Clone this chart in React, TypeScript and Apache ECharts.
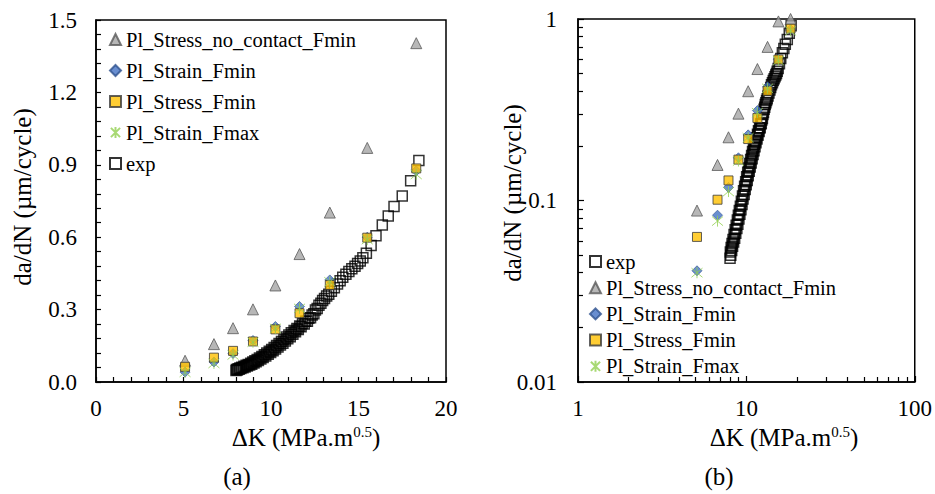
import React, { useEffect, useRef } from 'react';
import * as echarts from 'echarts';

// ---- data ----
const MODEL_DK = [5.09, 6.74, 7.83, 8.97, 10.25, 11.63, 13.36, 15.5, 18.3];
const NO_CONTACT_FMIN = [0.088, 0.157, 0.223, 0.301, 0.4, 0.53, 0.702, 0.97, 1.404];
const STRAIN_FMIN = [0.041, 0.083, 0.118, 0.172, 0.23, 0.313, 0.423, 0.6, 0.875];
const STRESS_FMIN = [0.063, 0.101, 0.129, 0.168, 0.218, 0.285, 0.402, 0.598, 0.885];
const STRAIN_FMAX = [0.04, 0.077, 0.112, 0.165, 0.222, 0.305, 0.415, 0.59, 0.86];

const EXP_DK = [
  8.0, 8.03, 8.08, 8.12, 8.18, 8.22, 8.28, 8.33, 8.4, 8.45, 8.52, 8.58, 8.65, 8.7, 8.78,
  8.84, 8.9, 8.96, 9.03, 9.08, 9.15, 9.21, 9.28, 9.34, 9.42, 9.48, 9.55, 9.62, 9.7, 9.76,
  9.84, 9.9, 9.98, 10.04, 10.12, 10.18, 10.26, 10.32, 10.4, 10.46, 10.54, 10.6, 10.68,
  10.74, 10.82, 10.88, 10.96, 11.02, 11.1, 11.16, 11.25, 11.32, 11.4, 11.48, 11.56, 11.64,
  11.72, 11.8, 11.9, 11.98, 12.08, 12.16, 12.26, 12.35, 12.45, 12.54, 12.64, 12.74, 12.85,
  12.95, 13.06, 13.18, 13.3, 13.45, 13.62, 13.8, 13.95, 14.1, 14.28, 14.45, 14.62, 14.8,
  14.95, 15.1, 15.25, 15.45, 15.72, 16.0, 16.36, 16.7, 17.03, 17.5, 17.98, 18.45,
];
const EXP_DADN = [
  0.048, 0.052, 0.05, 0.055, 0.053, 0.058, 0.056, 0.061, 0.059, 0.065, 0.062, 0.069, 0.066,
  0.073, 0.07, 0.078, 0.074, 0.083, 0.079, 0.088, 0.084, 0.093, 0.089, 0.099, 0.095, 0.106,
  0.102, 0.113, 0.108, 0.12, 0.115, 0.127, 0.122, 0.135, 0.129, 0.143, 0.137, 0.151, 0.145,
  0.16, 0.153, 0.168, 0.161, 0.177, 0.17, 0.186, 0.179, 0.195, 0.188, 0.204, 0.198, 0.213,
  0.208, 0.222, 0.218, 0.232, 0.229, 0.242, 0.24, 0.252, 0.252, 0.264, 0.266, 0.278, 0.283,
  0.298, 0.305, 0.318, 0.326, 0.338, 0.346, 0.356, 0.364, 0.376, 0.391, 0.406, 0.42, 0.434,
  0.446, 0.458, 0.469, 0.48, 0.491, 0.501, 0.515, 0.533, 0.566, 0.606, 0.651, 0.688, 0.727,
  0.771, 0.834, 0.918,
];

const LEFT_X_TICKS = [0, 20, 5];
const LEFT_Y_TICKS = [0, 1.5, 0.3];
const RIGHT_X_RANGE = [1, 100];
const RIGHT_Y_RANGE = [0.01, 1];

const N_NOCONTACT = 'Pl_Stress_no_contact_Fmin';
const N_STRAIN_FMIN = 'Pl_Strain_Fmin';
const N_STRESS_FMIN = 'Pl_Stress_Fmin';
const N_STRAIN_FMAX = 'Pl_Strain_Fmax';
const N_EXP = 'exp';

const LEFT_LEGEND = [N_NOCONTACT, N_STRAIN_FMIN, N_STRESS_FMIN, N_STRAIN_FMAX, N_EXP];
const RIGHT_LEGEND = [N_EXP, N_NOCONTACT, N_STRAIN_FMIN, N_STRESS_FMIN, N_STRAIN_FMAX];

const FONT = 'Liberation Serif, Times New Roman, serif';
const ASTERISK = 'path://M0,0L10,10M0,10L10,0M5,-1L5,11';

export default function App() {
  const ref = useRef<HTMLDivElement>(null);

  useEffect(() => {
    if (!ref.current) return;
    const chart = echarts.init(ref.current, undefined, { renderer: 'svg' });

    const pairs = (xs: number[], ys: number[], cap?: number) =>
      xs.map((x, i) => [x, cap !== undefined ? Math.min(ys[i], cap) : ys[i]]);

    const makeSeries = (gi: number) => {
      const cap = gi === 1 ? RIGHT_Y_RANGE[1] : undefined;
      const base = { type: 'scatter', xAxisIndex: gi, yAxisIndex: gi, silent: true };
      return [
        {
          ...base,
          name: N_EXP,
          symbol: 'rect',
          symbolSize: 10,
          itemStyle: { color: 'rgba(255,255,255,0)', borderColor: '#000', borderWidth: 1.5 },
          data: pairs(EXP_DK, EXP_DADN),
          z: 2,
        },
        {
          ...base,
          name: N_NOCONTACT,
          symbol: 'triangle',
          symbolSize: 11,
          itemStyle: { color: '#a5a5a5', borderColor: '#595959', borderWidth: 1 },
          data: pairs(MODEL_DK, NO_CONTACT_FMIN, cap),
          z: 3,
        },
        {
          ...base,
          name: N_STRAIN_FMIN,
          symbol: 'diamond',
          symbolSize: 10,
          itemStyle: { color: '#4472c4', borderColor: '#2f528f', borderWidth: 0.8 },
          data: pairs(MODEL_DK, STRAIN_FMIN, cap),
          z: 4,
        },
        {
          ...base,
          name: N_STRESS_FMIN,
          symbol: 'rect',
          symbolSize: 9,
          itemStyle: { color: '#ffc000', borderColor: '#3a3a3a', borderWidth: 1 },
          data: pairs(MODEL_DK, STRESS_FMIN, cap),
          z: 5,
        },
        {
          ...base,
          name: N_STRAIN_FMAX,
          symbol: ASTERISK,
          symbolSize: 11,
          itemStyle: { color: 'rgba(0,0,0,0)', borderColor: '#92d050', borderWidth: 1 },
          data: pairs(MODEL_DK, STRAIN_FMAX, cap),
          z: 6,
        },
      ];
    };

    const axisLine = { show: true, lineStyle: { color: '#000', width: 1.5 } };
    const labelStyle = { color: '#000', fontFamily: FONT, fontSize: 23 };
    const tick = (len: number) => ({ show: true, inside: true, length: len, lineStyle: { color: '#000', width: 1.2 } });
    const minor = (n: number) => ({ show: true, splitNumber: n, length: 5, lineStyle: { color: '#000', width: 1.2 } });

    const legendBase = {
      orient: 'vertical',
      selectedMode: false,
      padding: 0,
      itemWidth: 11,
      itemHeight: 11,
      textStyle: { color: '#000', fontFamily: FONT, fontSize: 20.5, lineHeight: 20 },
    };

    const xTitle = (cx: number) => ({
      type: 'text',
      x: cx,
      y: 437,
      style: {
        text: '{a|ΔK (MPa.m}{b|0.5}{a|)}',
        align: 'center',
        verticalAlign: 'middle',
        rich: {
          a: { fontFamily: FONT, fontSize: 25, lineHeight: 26, fill: '#000' },
          b: { fontFamily: FONT, fontSize: 15, lineHeight: 15, verticalAlign: 'top', fill: '#000' },
        },
      },
    });
    const yTitle = (cx: number, cy: number) => ({
      type: 'text',
      x: cx,
      y: cy,
      rotation: Math.PI / 2,
      style: {
        text: 'da/dN (µm/cycle)',
        align: 'center',
        verticalAlign: 'middle',
        fontFamily: FONT,
        fontSize: 25,
        fill: '#000',
      },
    });
    const caption = (cx: number, t: string) => ({
      type: 'text',
      x: cx,
      y: 476,
      style: { text: t, align: 'center', verticalAlign: 'middle', fontFamily: FONT, fontSize: 25, fill: '#000' },
    });

    chart.setOption({
      animation: false,
      backgroundColor: '#fff',
      textStyle: { fontFamily: FONT },
      grid: [
        { left: 96, top: 20, width: 350, height: 362, show: true, borderColor: '#000', borderWidth: 1.5 },
        { left: 578, top: 19, width: 340, height: 363, show: true, borderColor: '#000', borderWidth: 1.5 },
      ],
      xAxis: [
        {
          type: 'value',
          gridIndex: 0,
          min: LEFT_X_TICKS[0],
          max: LEFT_X_TICKS[1],
          interval: LEFT_X_TICKS[2],
          axisLine,
          axisTick: tick(5),
          minorTick: minor(5),
          splitLine: { show: false },
          axisLabel: { ...labelStyle, margin: 15 },
        },
        {
          type: 'log',
          logBase: 10,
          gridIndex: 1,
          min: RIGHT_X_RANGE[0],
          max: RIGHT_X_RANGE[1],
          axisLine,
          axisTick: tick(6),
          minorTick: minor(9),
          splitLine: { show: false },
          axisLabel: { ...labelStyle, margin: 15, formatter: (v: number) => String(Number(v.toPrecision(3))) },
        },
      ],
      yAxis: [
        {
          type: 'value',
          gridIndex: 0,
          min: LEFT_Y_TICKS[0],
          max: LEFT_Y_TICKS[1],
          interval: LEFT_Y_TICKS[2],
          axisLine,
          axisTick: tick(5),
          minorTick: minor(5),
          splitLine: { show: false },
          axisLabel: { ...labelStyle, margin: 19, formatter: (v: number) => v.toFixed(1) },
        },
        {
          type: 'log',
          logBase: 10,
          gridIndex: 1,
          min: RIGHT_Y_RANGE[0],
          max: RIGHT_Y_RANGE[1],
          axisLine,
          axisTick: tick(6),
          minorTick: minor(9),
          splitLine: { show: false },
          axisLabel: { ...labelStyle, margin: 21, formatter: (v: number) => String(Number(v.toPrecision(3))) },
        },
      ],
      legend: [
        { ...legendBase, left: 109, top: 29, itemGap: 10, data: LEFT_LEGEND },
        { ...legendBase, left: 589, top: 251, itemGap: 5.2, data: RIGHT_LEGEND },
      ],
      graphic: [
        xTitle(306),
        xTitle(784),
        yTitle(22, 197),
        yTitle(512, 193),
        caption(237, '(a)'),
        caption(719, '(b)'),
      ],
      series: [...makeSeries(0), ...makeSeries(1)],
    });

    return () => chart.dispose();
  }, []);

  return <div ref={ref} style={{ position: 'fixed', left: 0, top: 0, width: 935, height: 494 }} />;
}
